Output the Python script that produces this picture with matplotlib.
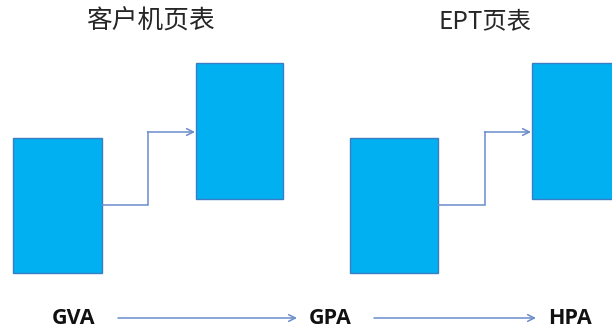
import matplotlib
matplotlib.use("Agg")
import matplotlib.pyplot as plt
from matplotlib.patches import Rectangle

plt.rcParams["font.family"] = ["Noto Sans CJK SC", "DejaVu Sans"]

# titulos de cada par de tabelas
titulos = ["客户机页表", "EPT页表"]
titulos_x = [150, 485]
titulos_tam = [18.5, 17.5]

# caixas (x esquerda, y topo, largura, altura) em pixels da imagem
caixas_x = [13, 196, 350, 532]
caixas_y = [138, 63, 138, 63]
caixas_w = [89, 87, 88, 90]
caixas_h = [135, 136, 135, 136]

# conectores em degrau: saida da caixa baixa ate a caixa alta
conector_x0 = [102, 438]
conector_xm = [148, 485]
conector_x1 = [195, 531]
conector_y0 = [205, 205]
conector_y1 = [132, 132]

# rotulos de endereco e setas entre eles
enderecos = ["GVA", "GPA", "HPA"]
enderecos_x = [74, 330, 570]
setas_x0 = [118, 374]
setas_x1 = [297, 536]
linha_y = 318

AZUL = "#00B0F0"
BORDA = "#3B7DC4"
SETA = "#6A8CCB"

fig = plt.figure(figsize=(6.12, 3.33), dpi=100)
ax = fig.add_axes([0, 0, 1, 1])
ax.set_xlim(0, 612)
ax.set_ylim(333, 0)
ax.axis("off")

for x, y, w, h in zip(caixas_x, caixas_y, caixas_w, caixas_h):
    ax.add_patch(Rectangle((x, y), w, h, facecolor=AZUL, edgecolor=BORDA, lw=1))

for x0, xm, x1, y0, y1 in zip(conector_x0, conector_xm, conector_x1, conector_y0, conector_y1):
    ax.plot([x0, xm, xm], [y0, y0, y1], color=SETA, lw=1.1, solid_joinstyle="miter")
    ax.annotate("", xy=(x1, y1), xytext=(xm - 0.5, y1),
                arrowprops=dict(arrowstyle="->", color=SETA, lw=1.1,
                                shrinkA=0, shrinkB=0, mutation_scale=12))

for texto, x, tam in zip(titulos, titulos_x, titulos_tam):
    ax.text(x, 22, texto, fontsize=tam, color="#262626", ha="center", va="center")

for texto, x in zip(enderecos, enderecos_x):
    ax.text(x, linha_y, texto, fontsize=15.5, fontweight="bold", color="#111111",
            ha="center", va="center", family=["Open Sans", "DejaVu Sans"])

for x0, x1 in zip(setas_x0, setas_x1):
    ax.annotate("", xy=(x1, linha_y), xytext=(x0, linha_y),
                arrowprops=dict(arrowstyle="->", color=SETA, lw=1.1,
                                shrinkA=0, shrinkB=0, mutation_scale=12))

fig.savefig("out.png", dpi=100, facecolor="white")
